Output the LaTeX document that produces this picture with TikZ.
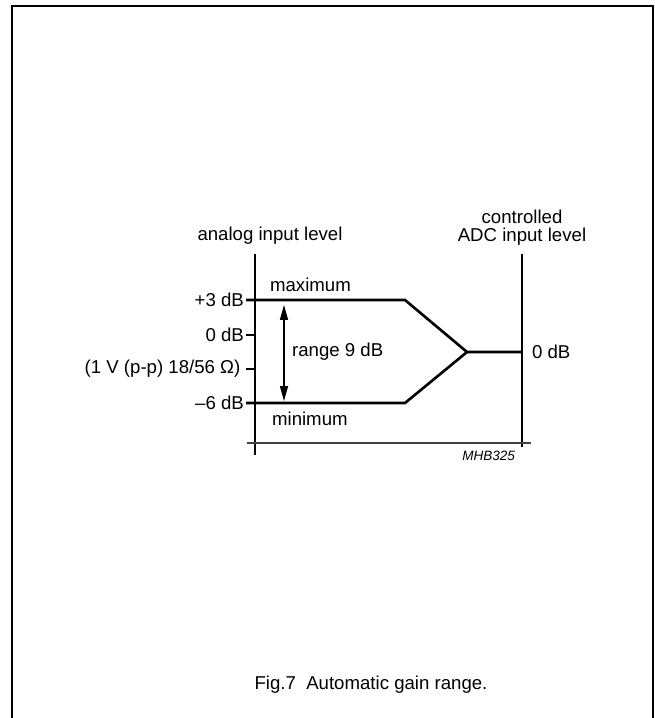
\documentclass[tikz,border=0pt]{standalone}
\usepackage{fontspec}
\setmainfont{Liberation Sans}
\usetikzlibrary{arrows.meta, positioning}

\begin{document}
\begin{tikzpicture}[x=0.02cm, y=-0.02cm,
        lbl/.style={inner sep=1pt, font=\fontsize{10.6}{12}\selectfont},
        axis/.style={line width=0.6pt},
        level/.style={line width=1.5pt, line join=miter},
        rangearrow/.style={{Triangle[length=8.5pt,width=4.6pt]}-{Triangle[length=8.5pt,width=4.6pt]}, line width=0.6pt}
    ]
        \useasboundingbox (0,0) rectangle (655,718);

        % Frame
        \draw[line width=1.2pt] (12,718) -- (12,6) -- (653,6) -- (653,718);

        % Axes
        \coordinate (ltop) at (255,254);
        \coordinate (lbot) at (255,455);
        \coordinate (rtop) at (522,254);
        \coordinate (rbot) at (522,447);
        \coordinate (bl) at (247,443);
        \coordinate (br) at (531,443);
        \draw[axis] (ltop) -- (lbot);
        \draw[axis] (rtop) -- (rbot);
        \draw[axis, black!75] (bl) -- (br);

        % Ticks
        \foreach \y/\n in {300/pthree, 335/zero, 369/ref, 403/msix} {
            \coordinate (\n) at (255,\y);
            \draw[axis] (\n) -- ++(-9,0) coordinate (t\n);
        }
        \node[lbl, anchor=east] at (tpthree) {+3 dB};
        \node[lbl, anchor=east] at (tzero) {0 dB};
        \node[lbl, anchor=east] at ([xshift=-2pt]tref) {(1 V (p-p) 18/56 Ω)};
        \node[lbl, anchor=east] at (tmsix) {–6 dB};

        % Gain range
        \coordinate (hi) at (405,300);
        \coordinate (lo) at (405,403);
        \coordinate (knee) at (467,352);
        \coordinate (out) at (522,352);
        \draw[level] (tpthree) -- (hi) -- (knee) -- (out);
        \draw[level] (tmsix) -- (lo) -- (knee);
        \draw[level] (pthree) -- (msix);

        \coordinate (atop) at (284,305);
        \coordinate (abot) at (284,401);
        \draw[rangearrow] (atop) -- (abot);

        % Labels
        \node[lbl, anchor=west] (maxl) at (268,285) {maximum};
        \node[lbl, anchor=west] (minl) at (270,419) {minimum};
        \node[lbl, anchor=west] (rng) at (290,352) {range 9 dB};
        \node[lbl, anchor=west] (outl) at (530,352) {0 dB};
        \node[lbl] (inl) at (270,236) {analog input level};
        \node[lbl, align=center, font=\fontsize{10.6}{10.2}\selectfont] (adcl) at (522,228) {controlled\\ADC input level};
        \node[inner sep=1pt, anchor=east, font=\fontsize{7.7}{9}\selectfont\itshape] (code) at (517,456) {MHB325};

        % Caption
        \node[lbl] (cap) at (371,685) {Fig.7\ \ Automatic gain range.};

    \end{tikzpicture}
\end{document}
